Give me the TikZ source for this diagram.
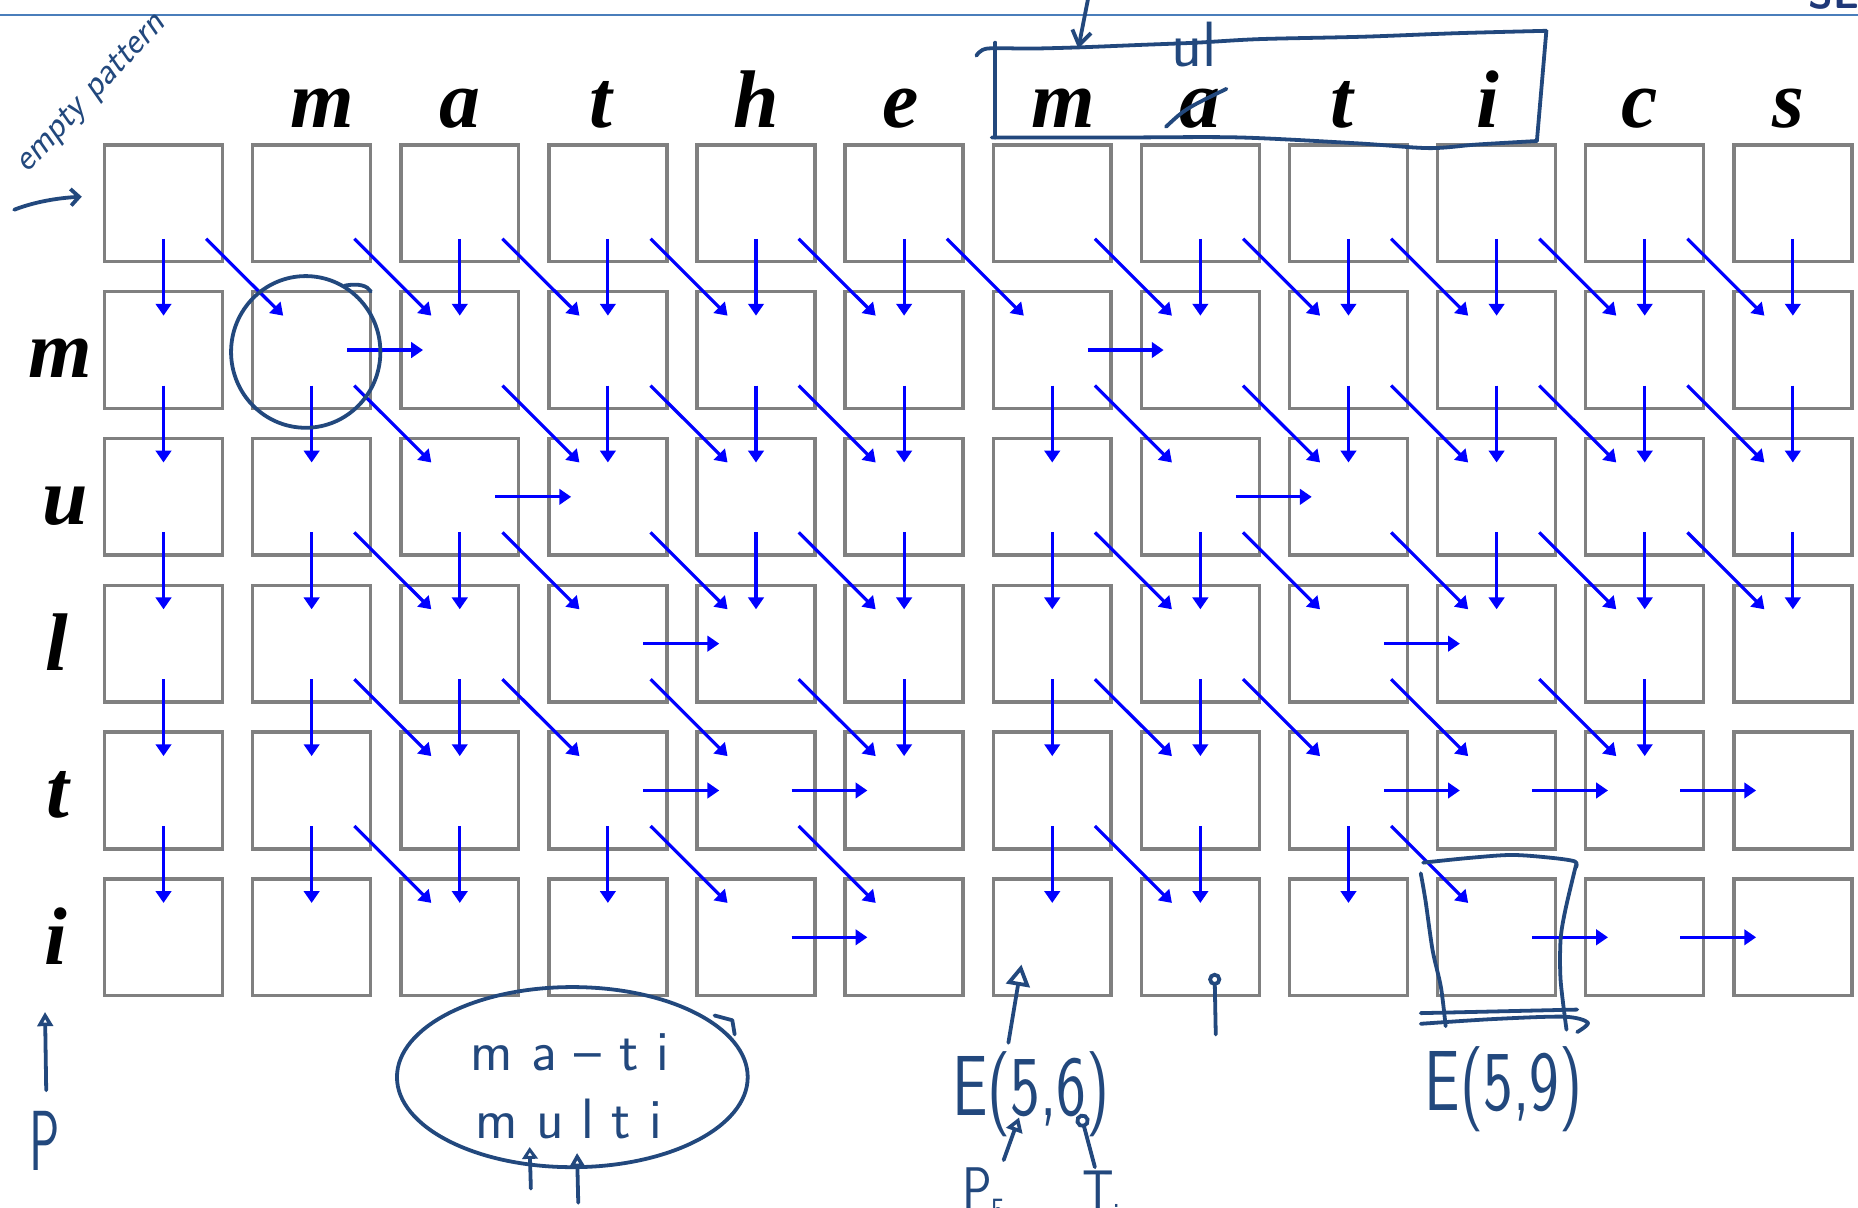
\documentclass[tikz,border=0pt]{standalone}
\usepackage{fontspec}
\newfontfamily\hdrfont{Liberation Serif}
\usetikzlibrary{arrows.meta,calc}
\definecolor{gridgray}{RGB}{128,128,128}
\definecolor{arrowblue}{RGB}{0,0,255}
\definecolor{inkblue}{RGB}{34,72,125}
\definecolor{rulecol}{RGB}{74,126,187}
\definecolor{navytxt}{RGB}{31,56,120}
\begin{document}
\begin{tikzpicture}[x=1pt,y=-1pt,
  cellbox/.style={draw=gridgray, line width=2.9pt, minimum width=99.5pt, minimum height=98.5pt, inner sep=0pt, outer sep=0pt},
  arr/.style={draw=arrowblue, line width=2.7pt, -{Triangle[length=10pt,width=13pt]}},
  hdr/.style={font=\hdrfont\bfseries\itshape\fontsize{69}{70}\selectfont, inner sep=0pt, anchor=base},
  ink/.style={draw=inkblue, line width=3.2pt, line cap=round, line join=round},
  hand/.style={text=inkblue, font=\sffamily\fontsize{48}{50}\selectfont, inner sep=0pt},
  bighand/.style={text=inkblue, font=\sffamily\fontsize{72}{72}\selectfont, inner sep=0pt, xscale=0.74},
  ptr/.style={ink, -{Triangle[open,length=12pt,width=13pt]}}
]
\useasboundingbox (0,0) rectangle (1568,1019);
\fill[white] (0,0) rectangle (1568,1019);

% top rule and cut-off slide text
\draw[rulecol, line width=2.4pt] (0,12.7) -- (1568,12.7);
\node[text=navytxt, font=\sffamily\bfseries\fontsize{34}{34}\selectfont, anchor=base west, inner sep=0pt] (se) at (1526,7.5) {SE};

% cells
\foreach \i in {0,...,5}
  \foreach \j in {0,...,11}
    \node[cellbox] (c-\i-\j) at ({138+125*\j},{171.5+123.9*\i}) {};

% header letters
\foreach \j/\l/\x in {1/m/272, 2/a/388, 3/t/507, 4/h/638, 5/e/760, 6/m/897, 7/a/1013, 8/t/1132, 9/i/1256, 10/c/1384, 11/s/1509}
  \node[hdr] (h-\j) at (\x,108) {\l};
% row labels
\foreach \i/\l/\x in {1/m/51, 2/u/55, 3/l/48, 4/t/49, 5/i/47}
  \node[hdr] (r-\i) at (\x,{171.5+123.9*\i+23}) {\l};

% arrows
\foreach \i/\ds/\gs/\rs in {
  1/{0,2,3,4,5,7,8,9,10,11}/{1,2,3,4,5,6,7,8,9,10,11}/{2,7},
  2/{0,1,3,4,5,6,8,9,10,11}/{2,3,4,5,7,8,9,10,11}/{3,8},
  3/{0,1,2,4,5,6,7,9,10,11}/{2,3,4,5,7,8,9,10,11}/{4,9},
  4/{0,1,2,5,6,7,10}/{2,3,4,5,7,8,9,10}/{4,5,9,10,11},
  5/{0,1,2,3,6,7,8}/{2,4,5,7,9}/{5,10,11}}{
  \pgfmathtruncatemacro\ip{\i-1}
  \foreach \j in \ds {\draw[arr] ($(c-\ip-\j)+(0,30)$) -- ($(c-\i-\j)+(0,-29)$);}
  \foreach \j in \gs {\pgfmathtruncatemacro\jp{\j-1}
    \draw[arr] ($(c-\ip-\jp)+(36,30)$) -- ($(c-\i-\j)+(-24,-29)$);}
  \foreach \j in \rs {\pgfmathtruncatemacro\jp{\j-1}
    \draw[arr] ($(c-\i-\jp)+(30,0)$) -- ($(c-\i-\j)+(-31,0)$);}
}

% ---------- handwritten annotations ----------
\node[text=inkblue, font=\sffamily\itshape\fontsize{31}{31}\selectfont, inner sep=0pt, rotate=47] (ep) at (78,80) {empty pattern};
\draw[ink, -{Straight Barb[length=7pt,width=14pt]}] (12,177) .. controls (30,170) and (50,167) .. (69,166);

% circle around E(1,1)
\draw[ink] (258,297) ellipse [x radius=63, y radius=64];
\draw[ink] (291,241) .. controls (303,239) and (310,241) .. (313,246);

% box around "m a t i" in the header
\draw[ink] plot[smooth] coordinates {(824,47) (833,41) (870,41) (910,40) (960,38) (1010,36) (1063,33) (1150,31) (1230,28) (1305,26)};
\draw[ink] (1305,26) -- (1297,119);
\draw[ink] plot[smooth] coordinates {(1297,119) (1246,122) (1206,125) (1146,121) (1046,116) (950,116) (837,116)};
\draw[ink] (840,36) -- (840,116);
\draw[ink, -{Straight Barb[length=12pt,width=16pt]}] (919,-5) -- (910,41);
\node[hand, font=\sffamily\fontsize{54}{54}\selectfont, anchor=base] (ul) at (1008,56) {ul};
\draw[ink] (984,107) .. controls (1000,92) .. (1035,75);

% P pointer, bottom left
\draw[ptr] (39,920) -- (38,854);
\node[bighand, xscale=0.8, anchor=base] (p) at (38,988) {P};

% ellipse with ma-ti / multi
\draw[ink] (483,909) ellipse [x radius=148, y radius=76];
\draw[ink] (603,857) -- (618,861) -- (620,873);
\node[hand, anchor=base] (t1) at (481,903) {m a – t i};
\node[hand, anchor=base] (t2) at (480,961) {m u l t i};
\draw[ptr, -{Triangle[open,length=10pt,width=13pt]}] (448,1003) -- (447,968);
\draw[ptr] (488,1015) -- (487,973);

% E(5,6)
\node[bighand, anchor=base] (e56) at (870,941) {E(5,6)};
\draw[ink, -{Triangle[open,length=18pt,width=20pt]}] (851,880) -- (862,814);
\draw[ink, -{Circle[open,length=11pt]}] (1026,873) -- (1025,821);
\node[hand, font=\sffamily\fontsize{52}{52}\selectfont, xscale=0.8, anchor=north west] (p5) at (812,985) {P\raisebox{-10pt}{\fontsize{30}{30}\selectfont 5}};
\node[hand, font=\sffamily\fontsize{52}{52}\selectfont, xscale=0.8, anchor=north west] (ti) at (913,988) {T\raisebox{-12pt}{\fontsize{30}{30}\selectfont i}};
\draw[ink, -{Triangle[open,length=12pt,width=14pt]}] (847,979) -- (860,943);
\draw[ink, -{Circle[open,length=12pt]}] (924,985) -- (912,940);

% E(5,9) with box
\node[bighand, anchor=base] (e59) at (1269,937) {E(5,9)};
\draw[ink] plot[smooth] coordinates {(1201,728) (1240,724) (1276,721.5) (1310,724) (1329,727) (1330,732)};
\draw[ink] plot[smooth] coordinates {(1330,730) (1321,768) (1317,793) (1317,827) (1322,869)};
\draw[ink] plot[smooth] coordinates {(1199,737) (1203,760) (1209,802) (1216,833) (1220,866)};
\draw[ink] (1199,855) -- (1331,852);
\draw[ink] plot[smooth] coordinates {(1199,864) (1260,860) (1320,858) (1340,863) (1331,871)};
\end{tikzpicture}
\end{document}
